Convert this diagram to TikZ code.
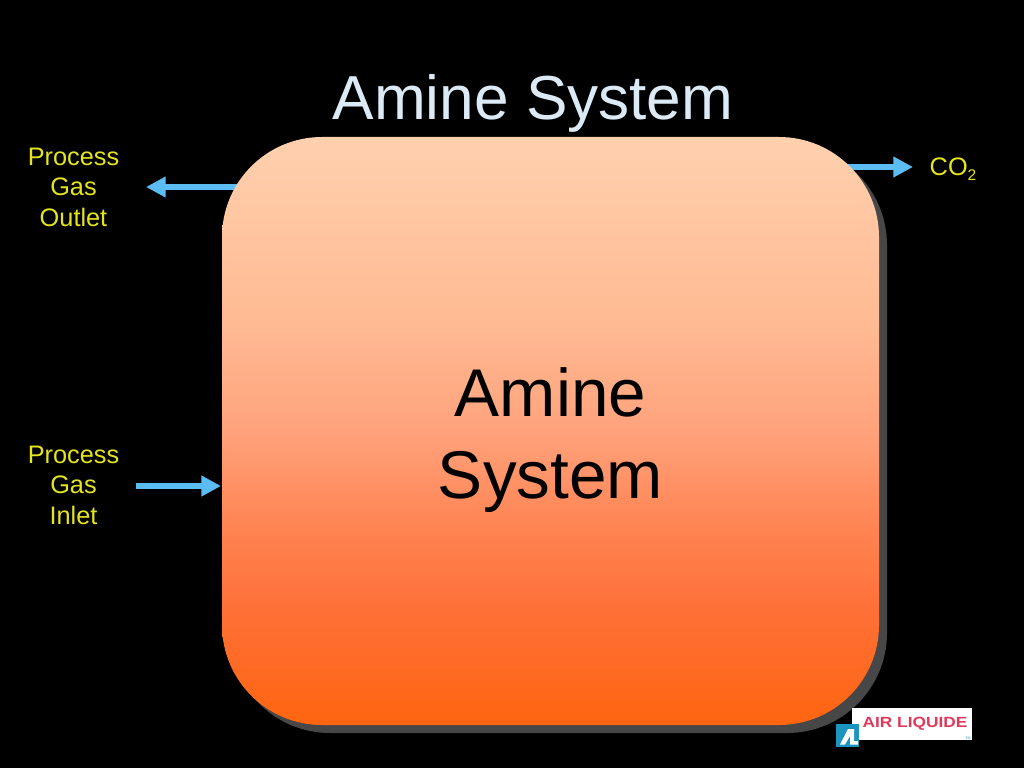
\documentclass[tikz,border=0pt]{standalone}
\usepackage{fontspec}
\setmainfont{Liberation Sans}
\usetikzlibrary{arrows.meta,shadows}
\definecolor{flowblue}{HTML}{5CBDF5}
\definecolor{labelyellow}{HTML}{E4E41E}
\definecolor{titleblue}{HTML}{DCEAF6}
\definecolor{logoblue}{HTML}{1B94BE}
\definecolor{logored}{HTML}{DF3A5C}
\definecolor{rampa}{HTML}{FF6510}
\definecolor{rampb}{HTML}{FF7038}
\definecolor{rampc}{HTML}{FF8858}
\definecolor{rampd}{HTML}{FFA27C}
\definecolor{rampe}{HTML}{FFBA92}
\definecolor{rampf}{HTML}{FFD0AE}
\pgfdeclareverticalshading{boxramp}{100bp}{color(0bp)=(rampa); color(25bp)=(rampa); color(35bp)=(rampb); color(43bp)=(rampc); color(50bp)=(rampd); color(59bp)=(rampe); color(75bp)=(rampf); color(100bp)=(rampf)}
\tikzset{
	flow/.style={draw=flowblue, line width=4.2pt, -{Triangle[length=14pt,width=14pt]}},
	streamlabel/.style={text=labelyellow, align=center, font=\fontsize{18}{21.7}\selectfont},
	systembox/.style={minimum width=657*0.025cm, minimum height=588*0.025cm, rounded corners=2.5cm,
		shade, shading=boxramp,
		drop shadow={shadow xshift=0.2cm, shadow yshift=-0.2cm, fill=black!72!white, opacity=1}},
}
\begin{document}
\begin{tikzpicture}[x=0.025cm,y=-0.025cm]
	\fill[black] (0,0) rectangle (1024,768);
	\useasboundingbox (0,0) rectangle (1024,768);
	\node[text=titleblue, font=\fontsize{44.2}{50}\selectfont] (title) at (533,103) {Amine System};
	% arrows first, the box sits over their ends
	\coordinate (outletstart) at (300,187);
	\coordinate (outletend) at (146,187);
	\coordinate (inletstart) at (136,486);
	\coordinate (inletend) at (221,486);
	\coordinate (costart) at (800,167);
	\coordinate (coend) at (913,167);
	\draw[flow] (outletstart) -- (outletend);
	\draw[flow] (inletstart) -- (inletend);
	\draw[flow] (costart) -- (coend);
	\node[systembox] (system) at (550.5,431) {};
	\node[align=center, text=black, font=\fontsize{48}{58}\selectfont] (systemname) at (550.5,440) {Amine\\System};
	\node[streamlabel] (outlet) at (73.5,187) {Process\\Gas\\Outlet};
	\node[streamlabel] (inlet) at (73.5,485) {Process\\Gas\\Inlet};
	\node[streamlabel] (co) at (953,169) {CO{\fontsize{11}{11}\selectfont\raisebox{-4pt}{2}}};
	% logo
	\node[fill=white, minimum width=120*0.025cm, minimum height=32*0.025cm, inner sep=0pt] (logo) at (912,724) {};
	\node[text=logored, font=\bfseries\fontsize{10.5}{12}\selectfont, inner sep=0pt, xscale=1.17, transform shape] (logoname) at (915,724) {AIR LIQUIDE};
	\node[fill=logoblue, minimum size=23*0.025cm, inner sep=0pt] (logomark) at (847.5,735.5) {};
	\fill[white] (840,744.5) -- (848,729) -- (854,729) -- (854,741) -- (858,741) -- (858,744.5) -- (850,744.5) -- (850,736) -- (845,744.5) -- cycle;
	\node[text=logoblue, font=\fontsize{2.5}{3}\selectfont, inner sep=0pt] (logotm) at (968,738) {TM};
\end{tikzpicture}
\end{document}
